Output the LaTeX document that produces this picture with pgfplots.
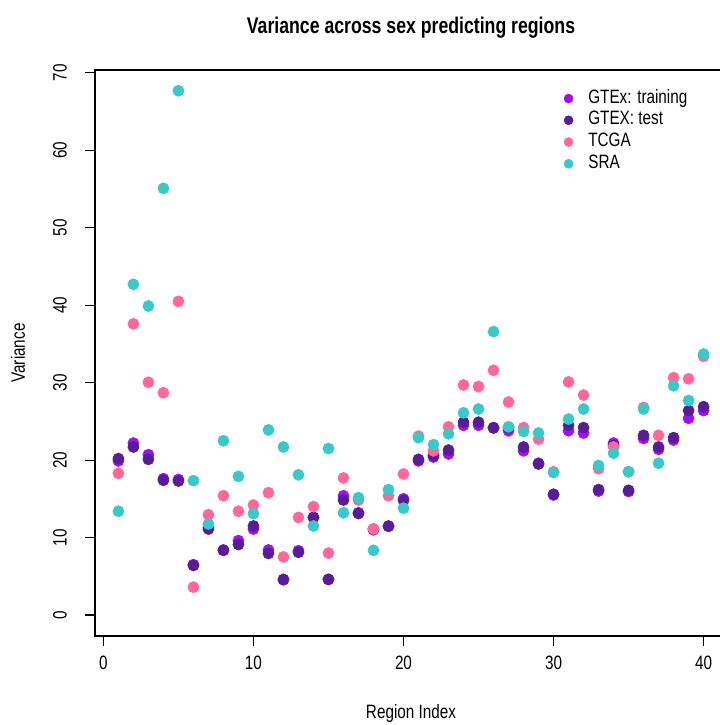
\documentclass[border=0pt]{standalone}
\usepackage{fontspec}
\setmainfont{Liberation Sans}[FakeStretch=0.79]
\newfontfamily\titlefont{Liberation Sans}[FakeStretch=0.78]
\usepackage{pgfplots}
\pgfplotsset{compat=1.18}
\usepackage{pgfplotstable}
\definecolor{ctrain}{RGB}{160,16,240}
\definecolor{ctest}{RGB}{88,28,148}
\definecolor{ctcga}{RGB}{255,104,152}
\definecolor{csra}{RGB}{58,200,200}
\pgfplotstableread{
x train test tcga sra
1 19.9 20.2 18.3 13.4
2 22.2 21.7 37.6 42.7
3 20.7 20.1 30.05 39.9
4 17.6 17.4 28.7 55.1
5 17.5 17.3 40.5 67.7
6 6.5 6.4 3.6 17.35
7 11.3 11.1 12.95 11.75
8 8.4 8.35 15.4 22.5
9 9.6 9.1 13.4 17.9
10 11.1 11.5 14.2 13.1
11 8.4 7.95 15.8 23.9
12 4.6 4.55 7.5 21.7
13 8.3 8.1 12.6 18.1
14 12.6 12.6 14.0 11.5
15 4.6 4.6 8.0 21.5
16 15.4 14.85 17.7 13.2
17 13.2 13.1 14.85 15.15
18 11.0 11.1 11.1 8.35
19 11.5 11.45 15.4 16.2
20 15.0 14.8 18.2 13.8
21 19.9 20.1 23.1 22.9
22 20.4 20.6 21.2 22.0
23 20.8 21.3 24.3 23.4
24 24.5 24.9 29.7 26.1
25 24.5 24.9 29.5 26.6
26 24.2 24.15 31.6 36.6
27 23.8 24.2 27.5 24.3
28 21.2 21.7 24.2 23.7
29 19.6 19.5 22.7 23.5
30 15.5 15.6 18.5 18.4
31 23.8 24.5 30.1 25.3
32 23.5 24.2 28.4 26.6
33 16.0 16.2 18.9 19.3
34 22.2 21.9 21.7 20.9
35 15.95 16.1 18.5 18.5
36 22.8 23.2 26.8 26.6
37 21.4 21.7 23.2 19.6
38 22.6 22.9 30.65 29.6
39 25.4 26.4 30.5 27.7
40 26.4 26.9 33.4 33.7
}\data
\begin{document}
\begin{tikzpicture}
\begin{axis}[name=ax,
  scale only axis, width=474pt, height=424.5pt,
  xmin=-0.56, xmax=41.56, ymin=-2.71, ymax=70.38,
  xtick={0,10,...,40}, ytick={0,10,...,70},
  xtick pos=bottom, ytick pos=left,
  tick align=outside, major tick length=7.5pt,
  tick style={black, line width=0.8pt},
  axis line style={black, line width=0.8pt},
  /pgf/number format/assume math mode=true,
  tick label style={font=\fontsize{14.5}{17}\selectfont},
  xticklabel style={anchor=center, yshift=-12.5pt},
  yticklabel style={xshift=-18.75pt, rotate=90, anchor=center},
  xlabel={Region Index}, ylabel={Variance},
  label style={font=\fontsize{14.5}{17}\selectfont},
  xlabel style={at={(axis description cs:0.5,-0.1378)}, anchor=center},
  ylabel style={at={(axis description cs:-0.1218,0.5)}, anchor=center},
  title={\titlefont\bfseries Variance across sex predicting regions},
  title style={at={(axis description cs:0.5,1.060)}, anchor=center, font=\fontsize{17}{20}\selectfont},
  legend cell align=left,
  legend image code/.code={\fill[#1] (3.4pt,0pt) circle (3.4pt);},
  legend style={at={(axis description cs:0.735,0.970)}, anchor=north west,
    draw=none, fill=none, font=\fontsize{14.5}{17}\selectfont,
    row sep=3.3pt, column sep=11.2pt,
    nodes={inner sep=0pt, text height=10pt, text depth=3pt}},
]
\addplot[only marks, mark=*, mark size=4.2pt, color=ctrain, mark options={draw=none, fill=ctrain}] table[x=x, y=train] {\data};
\addlegendentry{GTEx: training}
\addplot[only marks, mark=*, mark size=4.2pt, color=ctest, mark options={draw=none, fill=ctest}] table[x=x, y=test] {\data};
\addlegendentry{GTEX: test}
\addplot[only marks, mark=*, mark size=4.2pt, color=ctcga, mark options={draw=none, fill=ctcga}] table[x=x, y=tcga] {\data};
\addlegendentry{TCGA}
\addplot[only marks, mark=*, mark size=4.2pt, color=csra, mark options={draw=none, fill=csra}] table[x=x, y=sra] {\data};
\addlegendentry{SRA}
\end{axis}
\pgfresetboundingbox
\path[use as bounding box] ([xshift=-71.25pt,yshift=-66.75pt]ax.south west) rectangle ([xshift=468pt,yshift=477pt]ax.south west);
\end{tikzpicture}
\end{document}
